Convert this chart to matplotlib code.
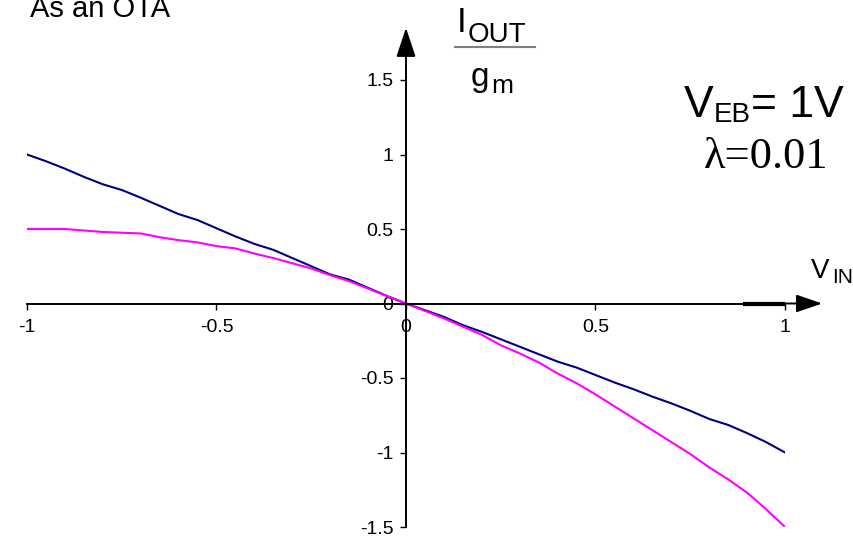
import matplotlib
matplotlib.use("Agg")
import matplotlib.pyplot as plt
from matplotlib.lines import Line2D

plt.rcParams['font.family'] = ['Liberation Sans', 'DejaVu Sans']

# V_IN sweep and normalised output current (I_OUT / g_m)
v_in = [-1.00, -0.95, -0.90, -0.85, -0.80, -0.75, -0.70, -0.65, -0.60, -0.55,
        -0.50, -0.45, -0.40, -0.35, -0.30, -0.25, -0.20, -0.15, -0.10, -0.05,
        0.00, 0.05, 0.10, 0.15, 0.20, 0.25, 0.30, 0.35, 0.40, 0.45,
        0.50, 0.55, 0.60, 0.65, 0.70, 0.75, 0.80, 0.85, 0.90, 0.95, 1.00]
iout_linear = [1.00, 0.955, 0.905, 0.85, 0.80, 0.762, 0.71, 0.655, 0.60, 0.56,
               0.505, 0.45, 0.40, 0.36, 0.305, 0.25, 0.195, 0.16, 0.105, 0.05,
               0.00, -0.045, -0.09, -0.145, -0.19, -0.24, -0.29, -0.34, -0.39, -0.43,
               -0.48, -0.53, -0.575, -0.625, -0.67, -0.72, -0.775, -0.815, -0.87, -0.93, -1.00]
iout_quad = [0.50, 0.50, 0.50, 0.49, 0.48, 0.475, 0.47, 0.445, 0.425, 0.41,
             0.385, 0.37, 0.335, 0.305, 0.27, 0.235, 0.19, 0.15, 0.10, 0.05,
             0.00, -0.05, -0.10, -0.155, -0.21, -0.28, -0.335, -0.395, -0.47, -0.535,
             -0.61, -0.69, -0.77, -0.85, -0.93, -1.01, -1.10, -1.18, -1.27, -1.38, -1.50]

x_ticks = [-1, -0.5, 0, 0.5, 1]
x_labels = ['-1', '-0.5', '0', '0.5', '1']
y_ticks = [-1.5, -1, -0.5, 0, 0.5, 1, 1.5]
y_labels = ['-1.5', '-1', '-0.5', '0', '0.5', '1', '1.5']

W, H = 854, 539
fig = plt.figure(figsize=(W / 100, H / 100), dpi=100)
ax = fig.add_axes([27 / W, 12 / H, 758 / W, 447 / H])
ax.set_xlim(-1, 1)
ax.set_ylim(-1.5, 1.5)

ax.plot(v_in, iout_linear, color='#000080', lw=1.5)
ax.plot(v_in, iout_quad, color='#FF00FF', lw=1.5)

# axes through the origin
for s in ['top', 'right']:
    ax.spines[s].set_visible(False)
ax.spines['left'].set_position(('data', 0))
ax.spines['bottom'].set_position(('data', 0))
ax.spines['left'].set_linewidth(1.4)
ax.spines['bottom'].set_linewidth(1.4)

ax.set_xticks(x_ticks)
ax.set_xticklabels(x_labels)
ax.set_yticks(y_ticks)
ax.set_yticklabels(y_labels)
ax.tick_params(axis='both', direction='out', length=4, width=1, labelsize=14)
ax.tick_params(axis='x', pad=7)
ax.tick_params(axis='y', pad=5)

# thick bit on the x axis near the end
ax.plot([0.89, 1.0], [0, 0], color='black', lw=3, solid_capstyle='butt')

# arrow heads
ax.annotate('', xy=(0, 1.85), xytext=(0, 1.5), annotation_clip=False,
            arrowprops=dict(arrowstyle='-|>,head_length=1.8,head_width=0.6',
                            color='black', lw=1.4, shrinkA=0, shrinkB=0))
ax.annotate('', xy=(1.098, 0), xytext=(1.0, 0), annotation_clip=False,
            arrowprops=dict(arrowstyle='-|>,head_length=1.6,head_width=0.55',
                            color='black', lw=1.4, shrinkA=0, shrinkB=0))


def px_text(x, y, s, size, **kw):
    fig.text(x / W, 1 - y / H, s, fontsize=size, va='baseline', ha='left', **kw)


px_text(30, 17, 'As an OTA', 21)

# I_OUT / g_m label
px_text(457, 32, 'I', 25)
px_text(468, 42, 'OUT', 20)
fig.add_artist(Line2D([455 / W, 535 / W], [1 - 47 / H, 1 - 47 / H],
                      color='#808080', lw=1.5))
px_text(471, 86, 'g', 24)
px_text(491, 93, 'm', 19)

# V_EB = 1V, lambda
px_text(684, 117, 'V', 32)
px_text(714, 122, 'EB', 20)
px_text(751, 117, '= 1V', 32)
px_text(704, 168, 'λ=0.01', 32, family='Liberation Serif')

# V_IN label
px_text(811, 278, 'V', 20)
px_text(832, 283, 'IN', 15)

fig.savefig('out.png', dpi=100)
